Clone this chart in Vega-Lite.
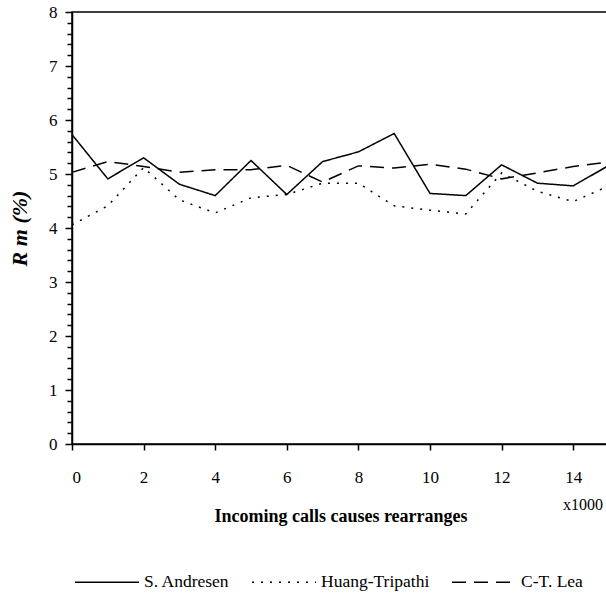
{
  "$schema": "https://vega.github.io/schema/vega-lite/v6.json",
  "autosize": {"type": "none"},
  "width": 537,
  "height": 432,
  "padding": {"left": 72, "top": 12, "right": 0, "bottom": 152},
  "background": "white",
  "config": {
    "font": "Liberation Serif",
    "view": {"stroke": "black", "strokeWidth": 1.5},
    "axis": {"domainColor": "black", "tickColor": "black", "labelColor": "black", "titleColor": "black", "grid": false, "labelFont": "Liberation Serif", "titleFont": "Liberation Serif"},
    "legend": {"labelFont": "Liberation Serif"},
    "text": {"font": "Liberation Serif"}
  },
  "datasets": {
    "rows": [
      {"x": 0, "series": "S. Andresen", "value": 5.73},
      {"x": 1, "series": "S. Andresen", "value": 4.91},
      {"x": 2, "series": "S. Andresen", "value": 5.30},
      {"x": 3, "series": "S. Andresen", "value": 4.81},
      {"x": 4, "series": "S. Andresen", "value": 4.60},
      {"x": 5, "series": "S. Andresen", "value": 5.25},
      {"x": 6, "series": "S. Andresen", "value": 4.62},
      {"x": 7, "series": "S. Andresen", "value": 5.23},
      {"x": 8, "series": "S. Andresen", "value": 5.41},
      {"x": 9, "series": "S. Andresen", "value": 5.75},
      {"x": 10, "series": "S. Andresen", "value": 4.64},
      {"x": 11, "series": "S. Andresen", "value": 4.60},
      {"x": 12, "series": "S. Andresen", "value": 5.17},
      {"x": 13, "series": "S. Andresen", "value": 4.83},
      {"x": 14, "series": "S. Andresen", "value": 4.78},
      {"x": 15, "series": "S. Andresen", "value": 5.16},
      {"x": 0, "series": "Huang-Tripathi", "value": 4.06},
      {"x": 1, "series": "Huang-Tripathi", "value": 4.41},
      {"x": 2, "series": "Huang-Tripathi", "value": 5.12},
      {"x": 3, "series": "Huang-Tripathi", "value": 4.52},
      {"x": 4, "series": "Huang-Tripathi", "value": 4.28},
      {"x": 5, "series": "Huang-Tripathi", "value": 4.56},
      {"x": 6, "series": "Huang-Tripathi", "value": 4.62},
      {"x": 7, "series": "Huang-Tripathi", "value": 4.83},
      {"x": 8, "series": "Huang-Tripathi", "value": 4.83},
      {"x": 9, "series": "Huang-Tripathi", "value": 4.41},
      {"x": 10, "series": "Huang-Tripathi", "value": 4.33},
      {"x": 11, "series": "Huang-Tripathi", "value": 4.26},
      {"x": 12, "series": "Huang-Tripathi", "value": 5.02},
      {"x": 13, "series": "Huang-Tripathi", "value": 4.68},
      {"x": 14, "series": "Huang-Tripathi", "value": 4.49},
      {"x": 15, "series": "Huang-Tripathi", "value": 4.78},
      {"x": 0, "series": "C-T. Lea", "value": 5.03},
      {"x": 1, "series": "C-T. Lea", "value": 5.23},
      {"x": 2, "series": "C-T. Lea", "value": 5.14},
      {"x": 3, "series": "C-T. Lea", "value": 5.03},
      {"x": 4, "series": "C-T. Lea", "value": 5.08},
      {"x": 5, "series": "C-T. Lea", "value": 5.08},
      {"x": 6, "series": "C-T. Lea", "value": 5.16},
      {"x": 7, "series": "C-T. Lea", "value": 4.85},
      {"x": 8, "series": "C-T. Lea", "value": 5.15},
      {"x": 9, "series": "C-T. Lea", "value": 5.11},
      {"x": 10, "series": "C-T. Lea", "value": 5.18},
      {"x": 11, "series": "C-T. Lea", "value": 5.09},
      {"x": 12, "series": "C-T. Lea", "value": 4.91},
      {"x": 13, "series": "C-T. Lea", "value": 5.02},
      {"x": 14, "series": "C-T. Lea", "value": 5.14},
      {"x": 15, "series": "C-T. Lea", "value": 5.22}
    ],
    "note": [{"label": "x1000", "x": 15, "y": 0}]
  },
  "layer": [
    {
      "data": {"name": "rows"},
      "mark": {"type": "line", "color": "black", "strokeWidth": 1.5},
      "encoding": {
        "x": {
          "field": "x", "type": "quantitative",
          "scale": {"domain": [0, 15], "nice": false, "zero": false},
          "axis": {
            "values": [0, 1, 2, 3, 4, 5, 6, 7, 8, 9, 10, 11, 12, 13, 14, 15],
            "labelExpr": "datum.value % 2 == 0 ? datum.label : ''",
            "title": "Incoming calls causes rearranges",
            "titleFont": "Liberation Serif", "labelFont": "Liberation Serif",
            "titleFontSize": 18, "titleFontWeight": "bold", "titlePadding": 22,
            "labelFontSize": 17, "labelPadding": 19, "tickSize": 6, "tickWidth": 1.5, "domainWidth": 1.5
          }
        },
        "y": {
          "field": "value", "type": "quantitative",
          "scale": {"domain": [0, 8], "nice": false},
          "axis": {
            "values": [0, 1, 2, 3, 4, 5, 6, 7, 8],
            "title": "R m (%)",
            "titleFont": "Liberation Serif", "labelFont": "Liberation Serif",
            "titleFontSize": 22, "titleFontWeight": "bold", "titleFontStyle": "italic", "titlePadding": 17,
            "labelFontSize": 17, "labelPadding": 8, "tickSize": 7, "tickWidth": 1.5, "domainWidth": 1.5
          }
        },
        "strokeDash": {
          "field": "series", "type": "nominal",
          "scale": {"domain": ["S. Andresen", "Huang-Tripathi", "C-T. Lea"], "range": [[1, 0], [2, 7], [14, 8]]},
          "legend": {
            "title": null, "orient": "none", "direction": "horizontal",
            "legendX": 2, "legendY": 537,
            "symbolType": "stroke", "symbolSize": 4100, "symbolStrokeWidth": 1.5, "symbolStrokeColor": "black",
            "labelFontSize": 17.5, "labelFont": "Liberation Serif", "labelColor": "black", "labelOffset": 4, "columnPadding": 18
          }
        }
      }
    },
    {
      "data": {"name": "rows"},
      "mark": {"type": "line", "opacity": 0},
      "encoding": {
        "x": {"field": "x", "type": "quantitative"},
        "y": {
          "field": "value", "type": "quantitative",
          "axis": {
            "orient": "left",
            "values": [0.2, 0.4, 0.6, 0.8, 1.2, 1.4, 1.6, 1.8, 2.2, 2.4, 2.6, 2.8, 3.2, 3.4, 3.6, 3.8, 4.2, 4.4, 4.6, 4.8, 5.2, 5.4, 5.6, 5.8, 6.2, 6.4, 6.6, 6.8, 7.2, 7.4, 7.6, 7.8],
            "labels": false, "title": null, "domain": false, "tickSize": 5, "tickWidth": 1.5
          }
        },
        "detail": {"field": "series"}
      }
    },
    {
      "data": {"name": "note"},
      "mark": {"type": "text", "align": "right", "baseline": "middle", "dx": -6, "dy": 61, "fontSize": 16, "font": "Liberation Serif", "color": "black"},
      "encoding": {
        "x": {"field": "x", "type": "quantitative"},
        "y": {"field": "y", "type": "quantitative", "axis": null},
        "text": {"field": "label"}
      }
    }
  ],
  "resolve": {"axis": {"y": "independent"}}
}
